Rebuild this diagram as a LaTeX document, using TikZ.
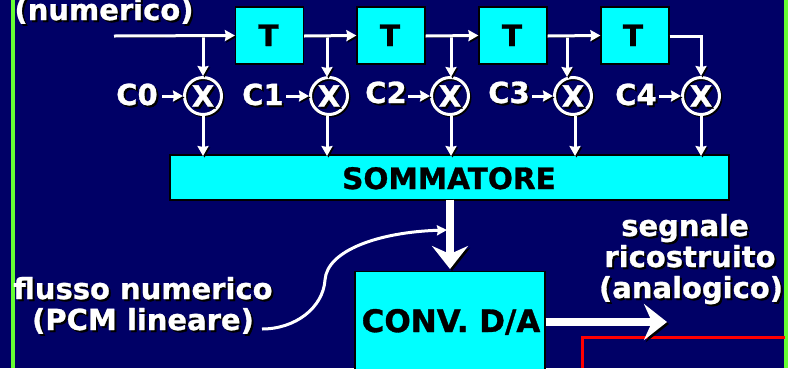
\documentclass[tikz,border=0pt]{standalone}
\usepackage{fontspec}
\setmainfont[BoldFeatures={FakeBold=1}]{DejaVu Sans}
\usetikzlibrary{arrows.meta,calc}
\definecolor{bluebg}{RGB}{0,0,102}
\definecolor{cyanbox}{RGB}{0,255,255}
\definecolor{greenline}{RGB}{102,255,51}
\newcommand{\shtxt}[1]{\rlap{\kern2pt\raisebox{-2pt}{\color{black}#1}}{\color{white}#1}}
\tikzset{
  box/.style={draw=black,line width=1.2pt,fill=cyanbox,text=black,font=\fontsize{29.5}{29.5}\selectfont\bfseries,inner sep=0pt},
  boxlab/.style={anchor=base,inner sep=0pt,text=black,font=\fontsize{29.5}{29.5}\selectfont\bfseries},
  molt/.style={circle,draw=white,line width=3pt,minimum size=37pt,inner sep=0pt,
    preaction={draw=black,line width=3pt,transform canvas={shift={(1.5pt,-1.5pt)}}}},
  lab/.style={anchor=base,inner sep=0pt,align=center,font=\fontsize{29}{30.5}\selectfont\bfseries},
  wire/.style={white,line width=3pt,-{Stealth[length=10pt,width=11pt,inset=1pt]},
    preaction={draw=black,transform canvas={shift={(1.5pt,-1.5pt)}}}},
  bigwire/.style={white,line width=7.5pt,-{Stealth[length=23pt,width=36pt,inset=8pt]},
    preaction={draw=black,transform canvas={shift={(2pt,-2pt)}}}}
}
\begin{document}
\begin{tikzpicture}[x=1pt,y=-1pt]
\useasboundingbox (0,0) rectangle (788,368);
\fill[bluebg] (0,0) rectangle (788,368);
\fill[greenline] (11,0) rectangle (15,368);
\fill[greenline] (784,0) rectangle (788,368);
\draw[red,line width=3pt] (582,368) -- (582,337) -- (785,337);

% linea di ritardo
\node[box,minimum width=68pt,minimum height=57pt] (t1) at (269.5,35.5) {};
\node[box,minimum width=68pt,minimum height=57pt] (t2) at (391,35.5) {};
\node[box,minimum width=68pt,minimum height=57pt] (t3) at (513,35.5) {};
\node[box,minimum width=68pt,minimum height=57pt] (t4) at (635,35.5) {};
\node[boxlab] (t1lab) at (268.5,46) {T};
\node[boxlab] (t2lab) at (390,46) {T};
\node[boxlab] (t3lab) at (512,46) {T};
\node[boxlab] (t4lab) at (633,46) {T};
\node[box,minimum width=559pt,minimum height=45pt] (somma) at (449.5,177.5) {};
\node[boxlab] (sommalab) at (449,189) {SOMMATORE};
\node[box,anchor=north,minimum width=190pt,minimum height=110pt] (conv) at (450,271) {};
\node[boxlab,font=\fontsize{31}{31}\selectfont\bfseries] (convlab) at (451,332) {CONV. D/A};

\node[molt] (m0) at (203,96) {};
\node[molt] (m1) at (329,96) {};
\node[molt] (m2) at (450,96) {};
\node[molt] (m3) at (573,96) {};
\node[molt] (m4) at (701,96) {};
\node[lab] (x0) at (203,106.5) {\shtxt{X}};
\node[lab] (x1) at (329,106.5) {\shtxt{X}};
\node[lab] (x2) at (450,106.5) {\shtxt{X}};
\node[lab] (x3) at (573,106.5) {\shtxt{X}};
\node[lab] (x4) at (701,106.5) {\shtxt{X}};

\node[lab] (c0) at (137,105) {\shtxt{C0}};
\node[lab] (c1) at (263,105) {\shtxt{C1}};
\node[lab] (c2) at (386,103) {\shtxt{C2}};
\node[lab] (c3) at (509,103) {\shtxt{C3}};
\node[lab] (c4) at (636,105) {\shtxt{C4}};

\node[lab] (ingr) at (104,20) {\shtxt{(numerico)}};
\node[lab] (fl1) at (143,299) {\shtxt{flusso numerico}};
\node[lab] (fl2) at (143,330) {\shtxt{(PCM lineare)}};
\node[lab] (seg1) at (685,236) {\shtxt{segnale}};
\node[lab] (seg2) at (690,267) {\shtxt{ricostruito}};
\node[lab] (seg3) at (691,298) {\shtxt{(analogico)}};

\coordinate (start) at (114,36);
\coordinate (b0) at (203,36);
\coordinate (b1) at (327,36);
\coordinate (b2) at (451,36);
\coordinate (b3) at (567,36);
\coordinate (s0) at (203,156);
\coordinate (s1) at (327,156);
\coordinate (s2) at (451,156);
\coordinate (s3) at (575,156);
\coordinate (s4) at (701,156);
\coordinate (uscita) at (667,322);
\coordinate (curva) at (262,329);
\coordinate (punta) at (447,230);

\draw[wire] (b0) -- (m0.north);
\draw[wire] (b1) -- (327,77);
\draw[wire] (b2) -- (451,77);
\draw[wire] (b3) -- (567,77);
\draw[wire] (start) -- (t1.west);
\draw[wire] (t1.east |- b1) -- (t2.west);
\draw[wire] (t2.east |- b2) -- (t3.west);
\draw[wire] (t3.east |- b3) -- (t4.west);
\draw[wire] (t4.east |- b3) -- (701,36) -- (m4.north);
\draw[wire] (m0.south) -- (s0);
\draw[wire] (327,116) -- (s1);
\draw[wire] (451,116) -- (s2);
\draw[wire] (575,116) -- (s3);
\draw[wire] (m4.south) -- (s4);

\draw[wire] (162,96) -- (m0.west);
\draw[wire] (286,96) -- (m1.west);
\draw[wire] (408,96) -- (m2.west);
\draw[wire] (532,96) -- (m3.west);
\draw[wire] (659,96) -- (m4.west);

\draw[bigwire,shorten <=-1pt,shorten >=2pt] (somma.south -| conv.north) -- (conv.north);
\draw[bigwire] (conv.east |- uscita) -- (uscita);
\draw[white,line width=3pt,-{Stealth[length=10pt,width=10pt,inset=1pt]}] (curva) .. controls (295,329) and (323,308) .. (325,280)
  .. controls (327,250) and (380,232) .. (punta);
\end{tikzpicture}
\end{document}
